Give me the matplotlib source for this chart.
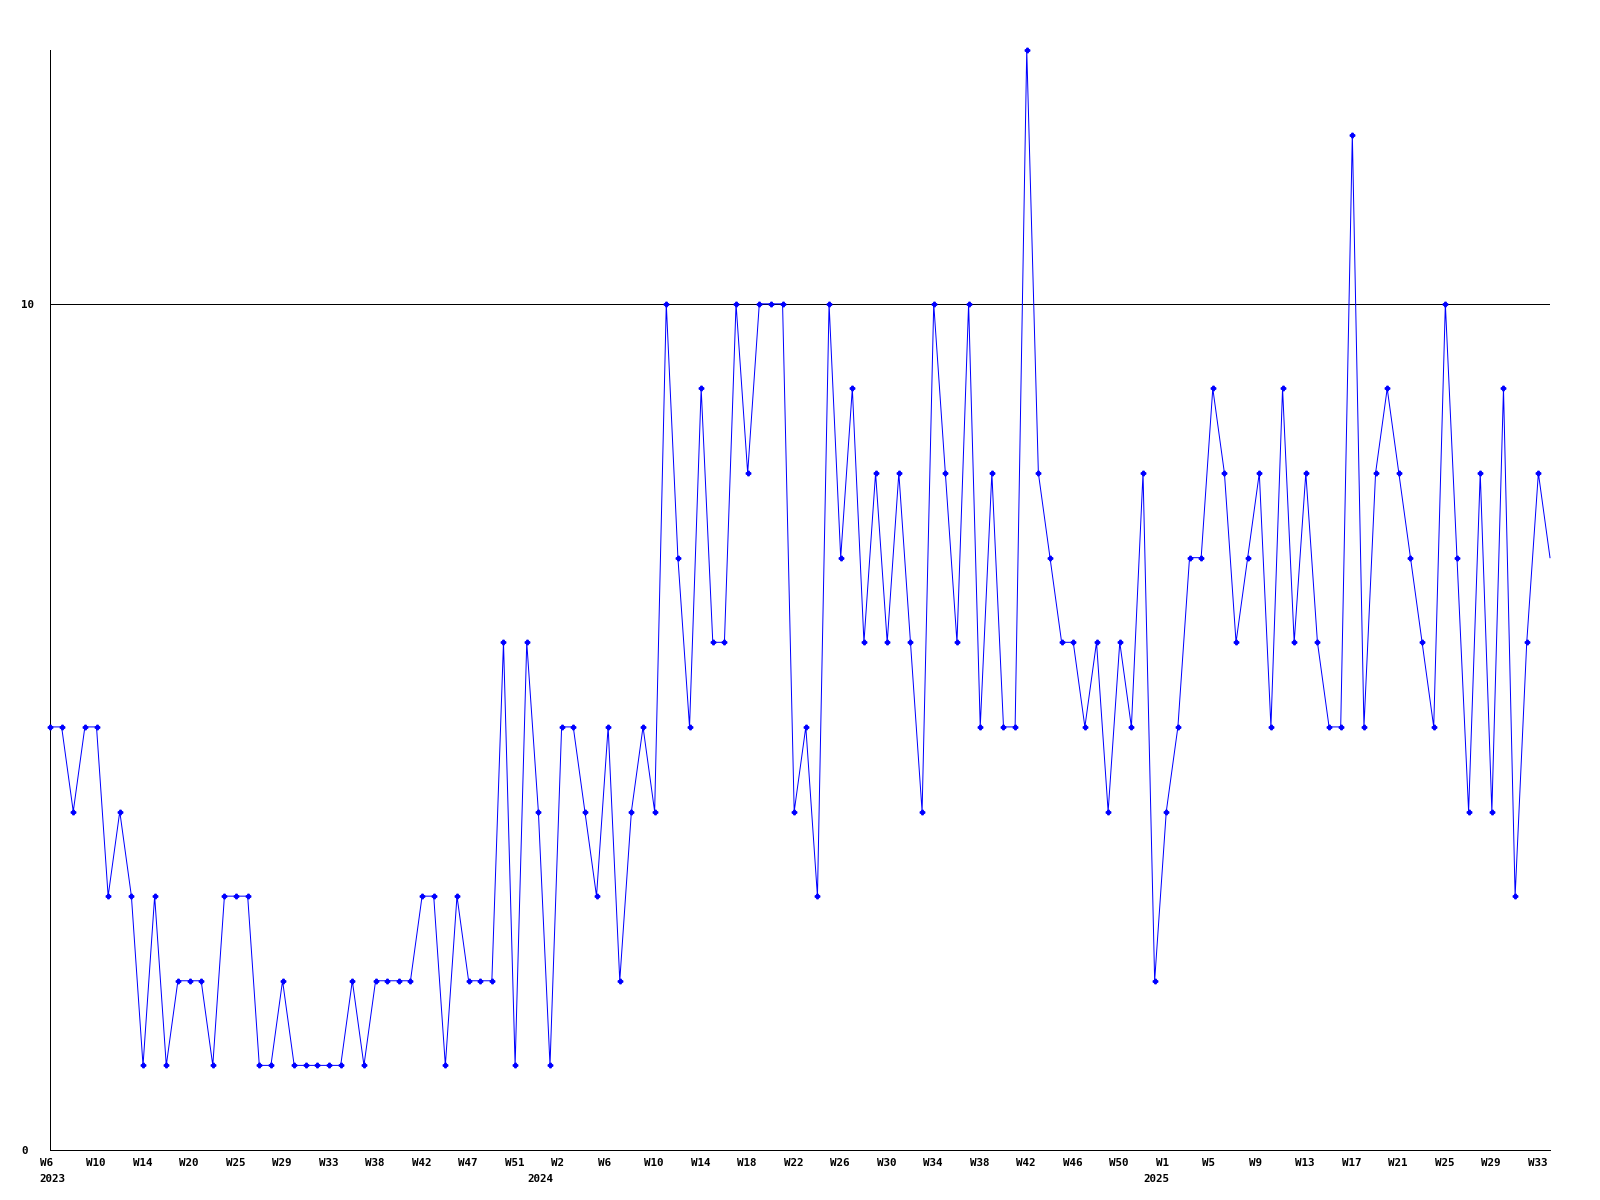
import matplotlib
matplotlib.use("Agg")
import matplotlib.pyplot as plt
from matplotlib.font_manager import FontProperties
from matplotlib.transforms import ScaledTranslation

# ---- data ----
values = [5, 5, 4, 5, 5, 3, 4, 3, 1, 3, 1, 2, 2, 2, 1, 3, 3, 3, 1, 1,
          2, 1, 1, 1, 1, 1, 2, 1, 2, 2, 2, 2, 3, 3, 1, 3, 2, 2, 2, 6,
          1, 6, 4, 1, 5, 5, 4, 3, 5, 2, 4, 5, 4, 10, 7, 5, 9, 6, 6, 10,
          8, 10, 10, 10, 4, 5, 3, 10, 7, 9, 6, 8, 6, 8, 6, 4, 10, 8, 6, 10,
          5, 8, 5, 5, 13, 8, 7, 6, 6, 5, 6, 4, 6, 5, 8, 2, 4, 5, 7, 7,
          9, 8, 6, 7, 8, 5, 9, 6, 8, 6, 5, 5, 12, 5, 8, 9, 8, 7, 6, 5,
          10, 7, 4, 8, 4, 9, 3, 6, 8, 7]

week_labels = ["W6", "W10", "W14", "W20", "W25", "W29", "W33", "W38", "W42", "W47", "W51",
               "W2", "W6", "W10", "W14", "W18", "W22", "W26", "W30", "W34", "W38", "W42", "W46", "W50",
               "W1", "W5", "W9", "W13", "W17", "W21", "W25", "W29", "W33"]
year_labels = ["2023", "2024", "2025"]
year_start_index = [0, 42, 95]
y_tick_values = [0, 10]
y_tick_labels = ["0", "10"]

LABEL_EVERY = 4  # a week label on every 4th point

W, H, DPI = 1600, 1200, 100
fig = plt.figure(figsize=(W / DPI, H / DPI), dpi=DPI, facecolor="white")
ax = fig.add_axes([50 / W, 50 / H, 1500 / W, 1100 / H])
ax.set_facecolor("white")

px = 72.0 / DPI  # one pixel in points
font = dict(family="DejaVu Sans Mono", weight="bold", size=7.8)

x = list(range(len(values)))
ax.plot(x, values, color="#0000ff", lw=1.0 * px, marker="P", ms=3.2,
        mec="#0000ff", mfc="#0000ff", markevery=list(range(len(values) - 1)),
        clip_on=False, zorder=3)

for s in ["top", "right"]:
    ax.spines[s].set_visible(False)
for s in ["left", "bottom"]:
    ax.spines[s].set_color("black")
    ax.spines[s].set_linewidth(1.0 * px)

# y labels and the gridline at 10
ax.set_yticks(y_tick_values, y_tick_labels)
ax.yaxis.grid(True, color="black", lw=1.0 * px)
ax.set_axisbelow(True)
ax.tick_params(axis="y", length=0, pad=29 * px)
for lab in ax.get_yticklabels():
    lab.set_ha("left")
    lab.set_fontproperties(FontProperties(**font))

ax.set_xticks([])
ax.set_xlim(0, len(values) - 1)
ax.set_ylim(0, 13)

# week labels: left-aligned a little before each labelled point
base = ax.get_xaxis_transform()
wk_tr = base + ScaledTranslation(-10.5 / DPI, -16 / DPI, fig.dpi_scale_trans)
for i, lab in enumerate(week_labels):
    ax.text(i * LABEL_EVERY, 0, lab, transform=wk_tr, ha="left", va="baseline",
            clip_on=False, **font)

yr_tr = base + ScaledTranslation(-11 / DPI, -32 / DPI, fig.dpi_scale_trans)
for yl, xi in zip(year_labels, year_start_index):
    ax.text(xi, 0, yl, transform=yr_tr, ha="left", va="baseline",
            clip_on=False, **font)

fig.savefig("out.png", dpi=DPI, facecolor="white")
